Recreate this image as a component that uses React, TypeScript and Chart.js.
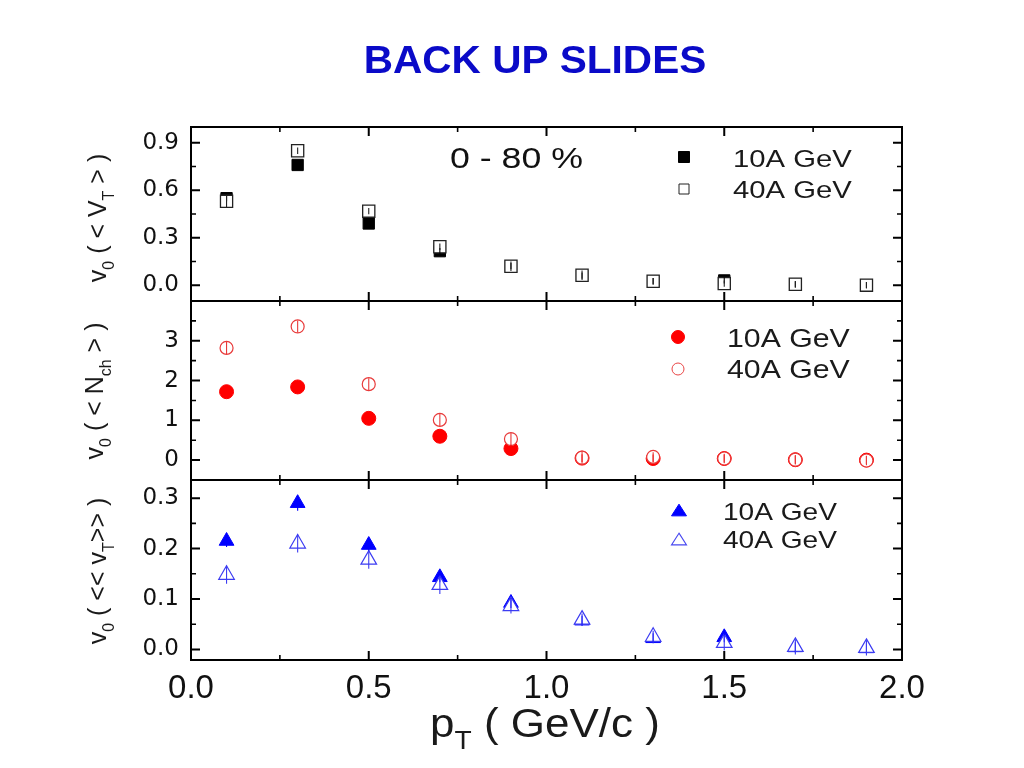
import { useEffect, useRef } from 'react';
import { Chart, registerables } from 'chart.js';
Chart.register(...registerables);

// ---------- data ----------
const pT = [0.1, 0.3, 0.5, 0.7, 0.9, 1.1, 1.3, 1.5, 1.7, 1.9];

const vt10 = [0.55, 0.76, 0.39, 0.215, 0.12, 0.06, 0.025, 0.03, 0.005, 0.0];
const vt40 = [0.53, 0.85, 0.468, 0.243, 0.12, 0.063, 0.025, 0.01, 0.006, 0.0];
const vt10Err = [0.02, 0.02, 0.02, 0.02, 0.02, 0.02, 0.02, 0.02, 0.02, 0.02];
const vt40Err = [0.04, 0.02, 0.02, 0.02, 0.03, 0.03, 0.02, 0.02, 0.02, 0.02];

const nch10 = [1.72, 1.84, 1.05, 0.6, 0.29, 0.05, 0.04, 0.04, 0.01, 0.0];
const nch40 = [2.82, 3.36, 1.91, 1.01, 0.53, 0.06, 0.08, 0.04, 0.01, -0.01];
const nch10Err = [0.1, 0.1, 0.1, 0.1, 0.1, 0.1, 0.1, 0.1, 0.1, 0.1];
const nch40Err = [0.15, 0.15, 0.15, 0.15, 0.15, 0.15, 0.12, 0.12, 0.12, 0.12];

const v10 = [0.215, 0.29, 0.207, 0.143, 0.092, 0.057, 0.022, 0.024, 0.004, 0.002];
const v40 = [0.148, 0.21, 0.178, 0.128, 0.086, 0.059, 0.025, 0.013, 0.005, 0.003];
const v10Err = [0.012, 0.015, 0.012, 0.01, 0.01, 0.01, 0.01, 0.01, 0.01, 0.01];
const v40Err = [0.018, 0.018, 0.018, 0.018, 0.015, 0.012, 0.012, 0.015, 0.015, 0.015];

const xTickVals = [0, 0.5, 1.0, 1.5, 2.0];
const yTopTicks = [0, 0.3, 0.6, 0.9];
const yMidTicks = [0, 1, 2, 3];
const yBotTicks = [0, 0.1, 0.2, 0.3];

const titleText = 'BACK UP SLIDES';
const centralityText = '0 - 80 %';
const series10 = '10A GeV';
const series40 = '40A GeV';

// ---------- drawing helpers ----------
const FONT = '"Liberation Sans", Arial, Helvetica, sans-serif';

type Part = [string, boolean];

function richText(
  ctx: CanvasRenderingContext2D,
  parts: Part[],
  x: number,
  y: number,
  size: number,
  color: string,
  stretch: number,
  align: 'center' | 'left',
  rotate: boolean,
  weight = 'normal'
) {
  ctx.save();
  ctx.translate(x, y);
  if (rotate) ctx.rotate(-Math.PI / 2);
  ctx.scale(stretch, 1);
  const subSize = size * 0.64;
  let total = 0;
  const widths: number[] = [];
  for (const [t, sub] of parts) {
    ctx.font = `${weight} ${sub ? subSize : size}px ${FONT}`;
    const w = ctx.measureText(t).width;
    widths.push(w);
    total += w;
  }
  let cx = align === 'center' ? -total / 2 : 0;
  ctx.fillStyle = color;
  ctx.textAlign = 'left';
  ctx.textBaseline = 'alphabetic';
  parts.forEach(([t, sub], i) => {
    ctx.font = `${weight} ${sub ? subSize : size}px ${FONT}`;
    ctx.fillText(t, cx, sub ? size * 0.3 : 0);
    cx += widths[i];
  });
  ctx.restore();
}

function marker(
  ctx: CanvasRenderingContext2D,
  kind: 'square' | 'circle' | 'triangle',
  x: number,
  y: number,
  s: number,
  fill: string | null,
  stroke: string,
  lw: number
) {
  ctx.save();
  ctx.beginPath();
  if (kind === 'square') ctx.rect(x - s / 2, y - s / 2, s, s);
  else if (kind === 'circle') ctx.arc(x, y, s / 2, 0, Math.PI * 2);
  else {
    const h = s * 0.78;
    ctx.moveTo(x, y - h / 2);
    ctx.lineTo(x + s / 2, y + h / 2);
    ctx.lineTo(x - s / 2, y + h / 2);
    ctx.closePath();
  }
  if (fill) {
    ctx.fillStyle = fill;
    ctx.fill();
  }
  ctx.strokeStyle = stroke;
  ctx.lineWidth = lw;
  ctx.stroke();
  ctx.restore();
}

function minorVals(majors: number[], min: number, max: number): number[] {
  const step = (majors[1] - majors[0]) / 2;
  const out: number[] = [];
  for (let k = -20; k < 40; k++) {
    const v = majors[0] + step * (2 * k + 1);
    if (v > min + step * 0.05 && v < max - step * 0.05) out.push(v);
  }
  return out;
}

const errMap: Record<string, number[]> = {
  vt10: vt10Err,
  vt40: vt40Err,
  nch10: nch10Err,
  nch40: nch40Err,
  v10: v10Err,
  v40: v40Err,
};

const panelPlugin = {
  id: 'panelPlugin',
  afterDatasetsDraw(chart: any) {
    const ctx: CanvasRenderingContext2D = chart.ctx;
    chart.data.datasets.forEach((ds: any, i: number) => {
      const meta = chart.getDatasetMeta(i);
      const ys = chart.scales[ds.yAxisID];
      const errs = errMap[ds.key];
      ctx.save();
      ctx.strokeStyle = ds.errColor;
      ctx.lineWidth = 1.1;
      meta.data.forEach((pt: any, j: number) => {
        const v = ds.data[j].y;
        const y1 = ys.getPixelForValue(v + errs[j]);
        const y2 = ys.getPixelForValue(v - errs[j]);
        ctx.beginPath();
        ctx.moveTo(pt.x, y1);
        ctx.lineTo(pt.x, y2);
        ctx.stroke();
      });
      ctx.restore();
    });
  },
  afterDraw(chart: any) {
    const ctx: CanvasRenderingContext2D = chart.ctx;
    const { left, right } = chart.chartArea;
    const xs = chart.scales.x;
    const panels = [
      { s: chart.scales.yTop, majors: yTopTicks },
      { s: chart.scales.yMid, majors: yMidTicks },
      { s: chart.scales.yBot, majors: yBotTicks },
    ];
    const xMinor = minorVals(xTickVals, xs.min, xs.max);
    ctx.save();
    ctx.strokeStyle = '#000';
    for (const p of panels) {
      const top = p.s.top;
      const bottom = p.s.bottom;
      ctx.lineWidth = 2;
      ctx.strokeRect(left, top, right - left, bottom - top);
      const minors = minorVals(p.majors, p.s.min, p.s.max);
      const drawY = (v: number, len: number) => {
        const y = p.s.getPixelForValue(v);
        ctx.beginPath();
        ctx.moveTo(left, y);
        ctx.lineTo(left + len, y);
        ctx.moveTo(right, y);
        ctx.lineTo(right - len, y);
        ctx.stroke();
      };
      ctx.lineWidth = 2;
      p.majors.forEach((v) => drawY(v, 9));
      ctx.lineWidth = 1.6;
      minors.forEach((v) => drawY(v, 5));
      const drawX = (v: number, len: number) => {
        const x = xs.getPixelForValue(v);
        if (x <= left + 1 || x >= right - 1) return;
        ctx.beginPath();
        ctx.moveTo(x, top);
        ctx.lineTo(x, top + len);
        ctx.moveTo(x, bottom);
        ctx.lineTo(x, bottom - len);
        ctx.stroke();
      };
      ctx.lineWidth = 2;
      xTickVals.forEach((v) => drawX(v, 9));
      ctx.lineWidth = 1.6;
      xMinor.forEach((v) => drawX(v, 5));
    }
    ctx.restore();

    // title
    richText(ctx, [[titleText, false]], 535, 73, 39, '#0a0ac8', 1.04, 'center', false, 'bold');

    // centrality
    richText(ctx, [[centralityText, false]], 450, 168, 30, '#111', 1.19, 'left', false);

    const tc = '#1a1a1a';
    // legends
    marker(ctx, 'square', 684, 157, 11, '#000', '#000', 1);
    marker(ctx, 'square', 684, 189, 10, '#fff', '#222', 1);
    richText(ctx, [[series10, false]], 733, 167, 24, tc, 1.22, 'left', false);
    richText(ctx, [[series40, false]], 733, 198, 24, tc, 1.22, 'left', false);

    marker(ctx, 'circle', 678, 337, 13, '#ff0000', '#ff0000', 1);
    marker(ctx, 'circle', 678, 369, 12, '#fff', '#e84545', 1);
    richText(ctx, [[series10, false]], 727, 347, 25, tc, 1.21, 'left', false);
    richText(ctx, [[series40, false]], 727, 378, 25, tc, 1.21, 'left', false);

    marker(ctx, 'triangle', 679, 510, 15, '#0000ff', '#0000ff', 1);
    marker(ctx, 'triangle', 679, 539, 15, '#fff', '#4848f0', 1.1);
    richText(ctx, [[series10, false]], 723, 520, 24, tc, 1.17, 'left', false);
    richText(ctx, [[series40, false]], 723, 548, 24, tc, 1.17, 'left', false);

    // axis titles
    richText(
      ctx,
      [['v', false], ['0', true], [' ( < ', false], ['V', false], ['T', true], [' > )', false]],
      106, 218, 25, tc, 1.0, 'center', true
    );
    richText(
      ctx,
      [['v', false], ['0', true], [' ( < ', false], ['N', false], ['ch', true], [' > )', false]],
      103, 391, 25, tc, 1.0, 'center', true
    );
    richText(
      ctx,
      [['v', false], ['0', true], [' ( << ', false], ['v', false], ['T', true], ['>> )', false]],
      106, 571, 25, tc, 1.0, 'center', true
    );
    richText(
      ctx,
      [['p', false], ['T', true], [' ( GeV/c )', false]],
      545, 737, 40, tc, 1.1, 'center', false
    );
  },
};

function pts(vals: number[]) {
  return pT.map((x, i) => ({ x, y: vals[i] }));
}

export default function App() {
  const ref = useRef<HTMLCanvasElement>(null);
  useEffect(() => {
    const tickFont = { family: '"DejaVu Sans", sans-serif', size: 23 };
    const yCommon = (min: number, max: number, ticks: number[], weight: number, fmt: (v: number) => string) => ({
      type: 'linear',
      position: 'left',
      stack: 'panels',
      stackWeight: weight,
      min,
      max,
      grid: { display: false, drawTicks: false },
      border: { display: false },
      afterFit: (s: any) => {
        s.width = 191;
      },
      afterBuildTicks: (s: any) => {
        s.ticks = ticks.map((v) => ({ value: v }));
      },
      ticks: {
        font: tickFont,
        color: '#111',
        padding: 12,
        callback: (v: any) => fmt(Number(v)),
      },
    });
    const chart = new Chart(ref.current!, {
      type: 'scatter',
      data: {
        datasets: [
          { key: 'vt10', label: series10, yAxisID: 'yTop', data: pts(vt10), order: 2, pointStyle: 'rect', pointRadius: 8, backgroundColor: '#000', borderColor: '#000', borderWidth: 1, errColor: '#000' },
          { key: 'vt40', label: series40, yAxisID: 'yTop', data: pts(vt40), order: 1, pointStyle: 'rect', pointRadius: 8.6, backgroundColor: '#fff', borderColor: '#222', borderWidth: 1.3, errColor: '#222' },
          { key: 'nch10', label: series10, yAxisID: 'yMid', data: pts(nch10), order: 2, pointStyle: 'circle', pointRadius: 7, backgroundColor: '#ff0000', borderColor: '#ff0000', borderWidth: 1, errColor: '#ff0000' },
          { key: 'nch40', label: series40, yAxisID: 'yMid', data: pts(nch40), order: 1, pointStyle: 'circle', pointRadius: 6.5, backgroundColor: '#fff', borderColor: '#e83a3a', borderWidth: 1.2, errColor: '#e83a3a' },
          { key: 'v10', label: series10, yAxisID: 'yBot', data: pts(v10), order: 2, pointStyle: 'triangle', pointRadius: 8.5, backgroundColor: '#0000ff', borderColor: '#0000ff', borderWidth: 1, errColor: '#0000ff' },
          { key: 'v40', label: series40, yAxisID: 'yBot', data: pts(v40), order: 1, pointStyle: 'triangle', pointRadius: 9, backgroundColor: '#fff', borderColor: '#3c3cf2', borderWidth: 1.2, errColor: '#3c3cf2' },
        ] as any,
      },
      options: {
        responsive: false,
        animation: false,
        events: [],
        layout: { padding: { top: 127, right: 122, bottom: 0, left: 0 } },
        plugins: { legend: { display: false }, title: { display: false }, tooltip: { enabled: false } },
        scales: {
          x: {
            type: 'linear',
            position: 'bottom',
            min: 0,
            max: 2,
            grid: { display: false, drawTicks: false },
            border: { display: false },
            afterFit: (s: any) => {
              s.height = 108;
            },
            afterBuildTicks: (s: any) => {
              s.ticks = xTickVals.map((v) => ({ value: v }));
            },
            ticks: {
              font: { family: FONT, size: 33 },
              color: '#111',
              padding: 9,
              maxRotation: 0,
              callback: (v: any) => Number(v).toFixed(1),
            },
          },
          yBot: yCommon(-0.021, 0.336, yBotTicks, 180, (v) => v.toFixed(1)),
          yMid: yCommon(-0.5, 4.0, yMidTicks, 179, (v) => String(Math.round(v))),
          yTop: yCommon(-0.1, 1.0, yTopTicks, 174, (v) => v.toFixed(1)),
        } as any,
      },
      plugins: [panelPlugin],
    });
    return () => chart.destroy();
  }, []);
  return (
    <div style={{ position: 'absolute', left: 0, top: 0, width: 1024, height: 768, background: '#fff' }}>
      <canvas ref={ref} width={1024} height={768} style={{ width: 1024, height: 768, display: 'block' }} />
    </div>
  );
}
